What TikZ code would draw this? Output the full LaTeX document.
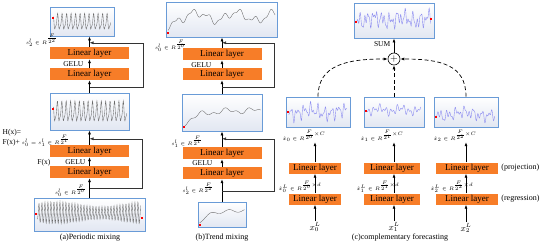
\documentclass[tikz,border=0pt]{standalone}
\usepackage{amsmath}
\usepackage{fontspec}
\setmainfont{Liberation Serif}
\definecolor{LayerOrange}{RGB}{247,125,40}
\definecolor{BoxBlue}    {RGB}{105,155,215}
\definecolor{BoxShade}   {RGB}{226,231,242}
\definecolor{WaveGray}   {RGB}{105,105,105}
\definecolor{WaveBlue}   {RGB}{140,140,240}
\usetikzlibrary{arrows.meta, positioning, calc}
\newcommand{\labfont}{\fontsize{5}{6}\selectfont}
\newcommand{\tinyfont}{\fontsize{4}{5}\selectfont}

\begin{document}
\begin{tikzpicture}[
  x=1pt, y=-1pt,
  lin/.style={fill=LayerOrange, minimum height=12pt, inner sep=0pt,
              font=\fontsize{9}{9}\selectfont},
  wbox/.style={draw=BoxBlue, line width=0.8pt, top color=white,
               bottom color=BoxShade, inner sep=0pt},
  arr/.style={-{Latex[length=4pt,width=3pt]}, line width=0.7pt},
  skiparr/.style={arr, line width=0.6pt, draw=black!80},
  dasharr/.style={arr, dash pattern=on 4pt off 2.5pt},
  wave/.style={WaveGray, line width=0.35pt},
  cwave/.style={WaveBlue, line width=0.4pt},
  lab/.style={font=\labfont, inner sep=0.5pt},
  txt/.style={font=\fontsize{7.5}{8}\selectfont, inner sep=0.5pt},
  captxt/.style={font=\fontsize{8}{9}\selectfont, inner sep=0pt},
  redmark/.style={fill=red}
]
  \useasboundingbox (0,0) rectangle (550,249);

  % (a) periodic mixing
  \node[wbox, minimum width=64pt, minimum height=29pt] (pa4) at (82,21.5) {};
  \node[lin, minimum width=79pt] (pl4) at (89.5,53) {Linear layer};
  \node[lin, minimum width=79pt] (pl3) at (89.5,74) {Linear layer};
  \node[wbox, minimum width=79pt, minimum height=37pt] (pa2) at (89.5,111.5) {};
  \node[lin, minimum width=79pt] (pl2) at (89.5,151) {Linear layer};
  \node[lin, minimum width=79pt] (pl1) at (89.5,172) {Linear layer};
  \node[wbox, minimum width=111pt, minimum height=33pt] (pa0) at (89.5,214.5) {};

  \draw[arr] (pa0) -- (pl1);
  \draw[arr] (pl1) -- (pl2);
  \draw[arr] (pl2) -- (pa2);
  \draw[arr] (pa2) -- (pl3);
  \draw[arr] (pl3) -- (pl4);
  \draw[arr] (pl4.north) -- (pl4.north |- pa4.south);
  \draw[skiparr] ($(pa0.north)+(0,-9)$) -- ++(53,0) |- ($(pl2.north)+(0,-6)$);
  \draw[skiparr] ($(pa2.north)+(0,-5)$) -- ++(53.5,0) |- ($(pl4.north)+(0,-4)$);

  \node[lab, anchor=south east] (sa2) at (58,47) {$s_2^l \in R^{\frac{F}{2^2}}$};
  \node[txt, anchor=east] (ga2) at (84,64) {GELU};
  \node[txt, anchor=west] (hx) at (2,133) {H(x)=};
  \node[anchor=west, inner sep=0.5pt] (fx) at (2,141)
    {\fontsize{7.5}{8}\selectfont F(x)+ \labfont$s_0^l=s_1^l\in R^{\frac{F}{2^1}}$};
  \node[txt, anchor=east] (fx1) at (51,162.5) {F(x)};
  \node[txt, anchor=east] (ga1) at (86,162.5) {GELU};
  \node[lab, anchor=east] (sa0) at (87,191) {$s_0^l \in R^{\frac{F}{2^0}}$};
  \node[captxt] (capa) at (90,238) {(a)Periodic mixing};

  \begin{scope}[shift={(pa4.west)}]
    \draw[wave] plot[domain=4:61, samples=170] (\x,{1+7*sin(\x*80)+2.5*sin(\x*160+50)});
    \fill[redmark] (2,-5) rectangle ++(2,2);
  \end{scope}
  \begin{scope}[shift={(pa2.west)}]
    \draw[wave] plot[domain=4:77, samples=220] (\x,{1+9*sin(\x*82)+3*sin(\x*164+50)});
    \fill[redmark] (2,-4) rectangle ++(2,2);
  \end{scope}
  \begin{scope}[shift={(pa0.west)}]
    \draw[wave] plot[domain=4:107, samples=420] (\x,{(8+2.5*sin(\x*4))*sin(\x*120)+4*sin(\x*120)*cos(\x*120+30)});
    \fill[redmark] (1,-2) rectangle ++(2.5,2);
    \fill[redmark] (107,2) rectangle ++(2.5,2);
  \end{scope}

  % (b) trend mixing
  \node[wbox, minimum width=111pt, minimum height=35pt] (pb4) at (222,19.5) {};
  \node[lin, minimum width=79pt] (ql4) at (222,54) {Linear layer};
  \node[lin, minimum width=79pt] (ql3) at (222,74) {Linear layer};
  \node[wbox, minimum width=80pt, minimum height=37pt] (pb2) at (222,112.5) {};
  \node[lin, minimum width=79pt] (ql2) at (222,153) {Linear layer};
  \node[lin, minimum width=79pt] (ql1) at (222,173) {Linear layer};
  \node[wbox, minimum width=48pt, minimum height=25pt] (pb0) at (222,214.5) {};

  \draw[arr] (pb0) -- (ql1);
  \draw[arr] (ql1) -- (ql2);
  \draw[arr] (ql2) -- (pb2);
  \draw[arr] (pb2) -- (ql3);
  \draw[arr] (ql3) -- (ql4);
  \draw[arr] (ql4) -- (pb4);
  \draw[skiparr] ($(pb0.north)+(0,-10)$) -- ++(52,0) |- ($(ql2.north)+(0,-8)$);
  \draw[skiparr] ($(pb2.north)+(0,-6)$) -- ++(52,0) |- ($(ql4.north)+(0,-5)$);

  \node[lab, anchor=east] (sb0) at (187,46) {$s_0^l \in R^{\frac{F}{2^0}}$};
  \node[txt, anchor=east] (gb2) at (212,65) {GELU};
  \node[lab] (sb1) at (187,142) {$s_1^l \in R^{\frac{F}{2^1}}$};
  \node[txt, anchor=east] (gb1) at (213,163) {GELU};
  \node[lab] (sb2) at (198,189) {$s_2^l \in R^{\frac{F}{2^2}}$};
  \node[captxt] (capb) at (222,238) {(b)Trend mixing};

  \begin{scope}[shift={(pb4.west)}]
    \draw[wave] plot[domain=2:109, samples=200]
      (\x,{12*exp(-\x/5)-3+4*sin(\x*9)+3*sin(\x*23+30)+1.5*sin(\x*47)});
    \fill[redmark] (1,12) rectangle ++(2,2);
  \end{scope}
  \begin{scope}[shift={(pb2.west)}]
    \draw[wave] plot[domain=2:79, samples=150]
      (\x,{14-16*(1-exp(-\x/14))+2*sin(\x*14)+1.5*sin(\x*31)});
    \fill[redmark] (1,13) rectangle ++(2,2);
  \end{scope}
  \begin{scope}[shift={(pb0.west)}]
    \draw[wave] plot[domain=2:47, samples=90]
      (\x,{10-14*(1-exp(-\x/10))+1.5*sin(\x*20)});
    \fill[redmark] (1,9) rectangle ++(2,2);
  \end{scope}

  % (c) complementary forecasting
  \node[wbox, minimum width=80pt, minimum height=35pt] (cs) at (394,20.5) {};
  \node[draw, circle, minimum size=12pt, inner sep=0pt, line width=0.6pt] (plus) at (394,59) {$+$};
  \node[wbox, minimum width=64pt, minimum height=30pt] (c0) at (318,112) {};
  \node[wbox, minimum width=60pt, minimum height=30pt] (c1) at (394,112) {};
  \node[wbox, minimum width=64pt, minimum height=30pt] (c2) at (466,112) {};

  \node[lin, minimum width=52pt, minimum height=11pt] (c0p) at (315,168) {Linear layer};
  \node[lin, minimum width=52pt, minimum height=11pt] (c0r) at (315,199) {Linear layer};
  \node[lin, minimum width=56pt, minimum height=11pt] (c1p) at (392,168) {Linear layer};
  \node[lin, minimum width=56pt, minimum height=11pt] (c1r) at (392,199) {Linear layer};
  \node[lin, minimum width=62pt, minimum height=11pt] (c2p) at (467,168) {Linear layer};
  \node[lin, minimum width=62pt, minimum height=11pt] (c2r) at (467,199) {Linear layer};

  \node[lab, font=\tinyfont] (c0o) at (304,136) {$\hat{x}_0 \in R^{\frac{F}{2^0}\times C}$};
  \node[lab, font=\tinyfont] (c1o) at (382,136) {$\hat{x}_1 \in R^{\frac{F}{2^1}\times C}$};
  \node[lab, font=\tinyfont] (c2o) at (455,136) {$\hat{x}_2 \in R^{\frac{F}{2^2}\times C}$};
  \node[lab, font=\tinyfont] (c0m) at (300,187) {$\hat{x}_0^L \in R^{\frac{F}{2^0}\times d}$};
  \node[lab, font=\tinyfont] (c1m) at (378,187) {$\hat{x}_1^L \in R^{\frac{F}{2^1}\times d}$};
  \node[lab, font=\tinyfont] (c2m) at (452,187) {$\hat{x}_2^L \in R^{\frac{F}{2^2}\times d}$};
  \node[font=\fontsize{9}{10}\selectfont, inner sep=1pt] (x0) at (315,227) {$x_0^L$};
  \node[font=\fontsize{9}{10}\selectfont, inner sep=1pt] (x1) at (394,227) {$x_1^L$};
  \node[font=\fontsize{9}{10}\selectfont, inner sep=1pt] (x2) at (466,228) {$x_2^L$};

  \draw[arr] (x0.north) -- (x0.north |- c0r.south);
  \draw[arr] (x1.north) -- (x1.north |- c1r.south);
  \draw[arr] (x2.north) -- (x2.north |- c2r.south);
  \draw[arr] (c0r) -- (c0p);
  \draw[arr] (c1r.north -| x1) -- (c1p.south -| x1);
  \draw[arr] (c2r.north -| x2) -- (c2p.south -| x2);
  \draw[arr] (c0p.north) -- (c0p.north |- c0o.south);
  \draw[arr] (c1p.north -| x1) -- (c1o.south -| x1);
  \draw[arr] (c2p.north -| x2) -- (c2o.south -| x2);

  \draw[dasharr] (c0.north) .. controls +(0,-32) and +(-40,0) .. (plus.west);
  \draw[dasharr] (c1.north) -- (plus.south);
  \draw[dasharr] (c2.north) .. controls +(0,-32) and +(40,0) .. (plus.east);
  \draw[arr] (plus) -- (cs);
  \node[txt, anchor=east] (sum) at (391,44) {SUM};

  \node[captxt, anchor=west] (proj) at ($(c2p.east)+(3,0)$) {(projection)};
  \node[captxt, anchor=west] (regr) at ($(c2r.east)+(3,0)$) {(regression)};
  \node[captxt] (capc) at (400,238) {(c)complementary forecasting};

  \begin{scope}[shift={(cs.west)}]
    \draw[cwave] plot[domain=3:77, samples=260]
      (\x,{-1+4*sin(\x*47)+4*sin(\x*89+20)+2.5*sin(\x*151)+2*sin(\x*13)});
    \fill[redmark] (1,0) rectangle ++(2,2);
    \fill[redmark] (76,-3) rectangle ++(2,2);
  \end{scope}
  \begin{scope}[shift={(c0.west)}]
    \draw[cwave] plot[domain=3:61, samples=220]
      (\x,{4*sin(\x*53)+3*sin(\x*97+20)+2*sin(\x*141)+2*sin(\x*11)});
    \fill[redmark] (1,-1) rectangle ++(2,2);
  \end{scope}
  \begin{scope}[shift={(c1.west)}]
    \draw[cwave] plot[domain=3:57, samples=200]
      (\x,{-2+2.5*sin(\x*61)+2*sin(\x*103+40)+2*sin(\x*17)});
    \fill[redmark] (1,-2) rectangle ++(2,2);
  \end{scope}
  \begin{scope}[shift={(c2.west)}]
    \draw[cwave] plot[domain=3:61, samples=220]
      (\x,{2+3*sin(\x*43+10)+2.5*sin(\x*79)+2*sin(\x*127+60)+2*sin(\x*9)});
    \fill[redmark] (1,4) rectangle ++(2,2);
  \end{scope}
\end{tikzpicture}
\end{document}
